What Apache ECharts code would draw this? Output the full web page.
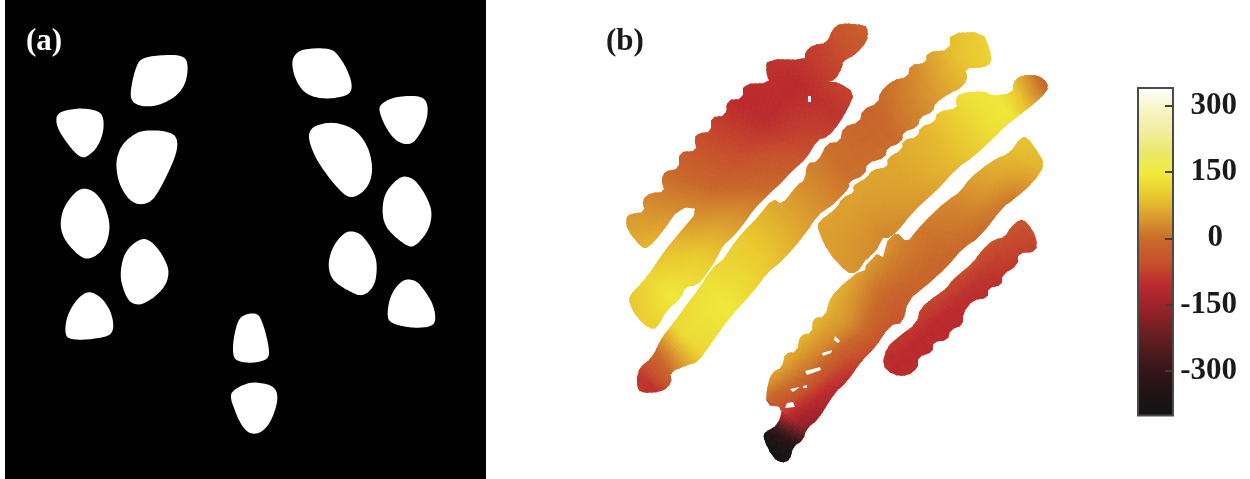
<!DOCTYPE html>
<html><head><meta charset="utf-8">
<style>html,body{margin:0;padding:0;background:#fff}#c{width:1250px;height:479px}</style>
<script src="https://cdn.jsdelivr.net/npm/echarts@6/dist/echarts.min.js"></script>
</head><body><div id="c"></div>
<script>
// ---------- panel (a): binary mask regions ----------
const regionsA = [
 [[141,58],[160,55],[181,55],[188,61],[187,80],[179,94],[165,103],[150,107],[136,105],[130,98],[132,82],[136,67]],
 [[57,114],[66,110],[82,108],[100,111],[104,120],[103,134],[97,148],[88,156],[83,158],[76,154],[67,143],[59,131],[56,122]],
 [[140,131],[157,130],[173,133],[178,141],[176,155],[168,173],[159,191],[151,202],[140,205],[130,201],[121,188],[117,175],[116,160],[121,146],[130,137]],
 [[85,188],[95,192],[103,202],[108,215],[110,228],[107,243],[100,253],[90,259],[82,258],[71,248],[63,237],[60,224],[63,209],[70,198],[78,190]],
 [[142,238],[151,241],[160,251],[167,264],[169,273],[166,285],[156,296],[145,303],[138,305],[129,302],[123,289],[120,275],[123,257],[130,246]],
 [[88,291],[98,295],[105,302],[111,312],[114,326],[111,335],[100,338],[83,340],[69,339],[65,334],[66,320],[71,308],[78,298]],
 [[250,313],[258,314],[262,321],[266,334],[269,348],[269,358],[260,362],[248,363],[237,361],[233,356],[233,342],[236,327],[240,317]],
 [[231,392],[242,385],[253,382],[268,384],[276,389],[278,399],[274,414],[268,426],[260,433],[252,434],[246,431],[239,421],[234,408],[231,400]],
 [[293,57],[300,50],[315,48],[332,49],[339,56],[347,69],[352,83],[351,93],[342,97],[325,99],[310,96],[301,89],[295,78],[292,66]],
 [[379,106],[387,100],[400,96],[421,96],[427,102],[428,113],[425,125],[418,137],[412,144],[402,144],[393,138],[385,126],[380,114]],
 [[309,132],[314,126],[330,122],[346,125],[359,133],[368,147],[372,162],[372,176],[367,188],[359,195],[350,198],[341,192],[326,174],[315,157],[309,141]],
 [[405,176],[414,179],[422,189],[429,202],[432,213],[430,226],[424,237],[414,247],[407,246],[395,237],[385,226],[382,212],[384,196],[391,185],[399,178]],
 [[352,231],[361,234],[369,244],[376,257],[377,270],[375,284],[368,293],[360,296],[351,292],[340,286],[331,278],[328,265],[331,251],[338,239],[346,232]],
 [[408,279],[417,281],[425,291],[433,304],[436,318],[433,326],[420,328],[405,327],[391,323],[387,317],[389,300],[395,288],[402,281]]
];
// ---------- panel (b): stroke outlines ----------
const outlineA = [[626,218],[630,214],[645,212],[642,200],[650,193],[665,192],[661,180],[665,171],[679,169],[679,152],[697,151],[694,138],[699,133],[711,132],[711,117],[726,116],[727,100],[743,99],[743,84],[770,83],[766,73],[767,59],[805,60],[805,52],[813,45],[827,43],[832,30],[840,23],[865,25],[868,30],[867,42],[855,55],[843,61],[842,68],[835,80],[827,82],[838,82],[855,93],[847,110],[840,122],[828,137],[817,140],[807,158],[793,170],[782,182],[768,195],[755,208],[743,225],[732,238],[723,245],[717,258],[708,272],[698,285],[685,287],[682,297],[667,310],[657,328],[650,329],[637,318],[629,303],[630,295],[640,285],[652,270],[663,253],[675,238],[700,209],[680,207],[660,235],[648,248],[642,248],[627,230]];
const outlineB = [[637,377],[640,367],[652,358],[662,337],[672,325],[685,307],[700,287],[713,267],[723,260],[728,252],[738,238],[747,228],[758,217],[773,198],[782,205],[797,185],[805,180],[807,163],[818,162],[827,143],[840,142],[843,127],[860,122],[862,110],[878,103],[880,92],[893,80],[908,77],[910,65],[926,63],[927,52],[950,50],[950,33],[983,32],[990,50],[992,63],[982,68],[965,68],[968,80],[958,90],[952,92],[935,103],[933,112],[920,117],[918,127],[903,132],[902,142],[887,148],[885,158],[867,163],[865,175],[848,182],[850,187],[835,203],[828,208],[818,215],[803,237],[783,260],[767,273],[755,290],[730,317],[710,345],[698,362],[688,365],[670,372],[672,383],[662,392],[640,393],[637,385]];
const outlineC = [[1013,82],[1022,75],[1038,75],[1048,83],[1047,92],[1030,107],[1022,113],[1003,128],[997,135],[973,157],[957,168],[940,187],[928,198],[912,213],[897,232],[888,238],[882,245],[868,258],[857,273],[847,273],[828,252],[818,230],[818,222],[837,208],[842,198],[855,192],[852,186],[867,178],[872,170],[888,167],[887,158],[902,150],[903,140],[918,137],[920,127],[935,122],[937,112],[958,108],[955,100],[960,93],[985,91],[992,96],[1013,93]];
const outlineE = [[857,273],[842,285],[830,298],[825,317],[813,318],[812,333],[800,335],[797,352],[785,353],[782,368],[772,372],[767,387],[766,405],[783,407],[778,425],[765,432],[763,438],[773,458],[782,463],[790,460],[793,447],[803,440],[807,428],[818,420],[835,392],[847,382],[862,360],[875,348],[890,325],[903,323],[908,300],[927,285],[947,267],[963,248],[980,237],[1003,207],[1013,200],[1033,183],[1045,165],[1038,152],[1027,137],[1020,138],[1010,153],[993,160],[970,178],[960,192],[948,200],[933,213],[917,230],[907,243],[897,232],[888,240],[870,262]];
const outlineF = [[1020,219],[1027,222],[1037,238],[1036,252],[1018,253],[1018,265],[1002,275],[1002,285],[988,288],[988,298],[973,300],[963,313],[963,325],[950,330],[948,340],[933,342],[933,352],[918,357],[918,368],[907,376],[893,375],[882,365],[887,347],[897,338],[917,323],[920,308],[937,295],[947,288],[952,280],[973,263],[982,250],[993,240],[1005,237],[1010,228]];
const holes = [
 [[808,96],[811,96],[811,102],[808,102]],
 [[835,336],[840,341],[838,343],[834,340]],
 [[822,353],[832,350],[831,353],[823,356]],
 [[805,371],[820,367],[821,370],[807,375]],
 [[790,389],[800,387],[793,392]],
 [[803,386],[807,385],[807,388],[803,388]],
 [[787,403],[793,402],[795,407],[785,408]],
 [[883,238],[888,238],[883,257],[875,253]],
 [[867,258],[865,270],[857,273]]
];
// ---------- panel (b): values read along (rows) and across (cols) each stroke ----------
const axisA = [[640,315],[860,35]];
const rowsA = [-10,35,80,130,180,230,280,330,370];
const colsA = [-40,-10,20,50,80];
const valuesA = [[100,100,85,60,50],[135,140,115,80,60],[115,105,75,50,35],[55,45,15,0,-5],[10,-15,-50,-60,-60],[-50,-70,-100,-105,-100],[-90,-95,-105,-95,-90],[-50,-55,-65,-80,-85],[-10,-15,-15,-20,-20]];
const axisB = [[650,385],[985,45]];
const rowsB = [0,30,60,110,170,230,290,350,410,450,490];
const colsB = [-40,-15,10,40];
const valuesB = [[-100,-100,-90,-80],[40,30,5,-10],[110,115,125,110],[125,140,140,125],[75,90,100,100],[35,45,50,50],[0,5,0,5],[10,0,-5,-15],[60,55,45,25],[100,95,90,75],[130,125,110,90]];
const axisC = [[835,250],[1040,85]];
const rowsC = [-10,50,100,150,200,222,240,265,285];
const colsC = [-30,0,30];
const valuesC = [[45,50,55],[20,40,55],[40,55,60],[75,85,80],[125,130,130],[130,140,140],[80,90,120],[0,0,30],[-30,-30,-10]];
const axisE = [[780,460],[1035,145]];
const rowsE = [0,20,40,70,110,150,190,230,270,310,350,390,420];
const colsE = [-15,10,35,60];
const valuesE = [[-395,-395,-395,-395],[-360,-320,-300,-250],[-220,-150,-50,30],[-150,-110,-10,60],[-120,-70,20,75],[-90,-20,40,75],[-40,-25,10,60],[-20,-5,15,50],[-10,0,10,30],[0,20,30,40],[15,55,65,70],[75,85,90,90],[90,95,95,95]];
const axisF = [[895,365],[1030,225]];
const rowsF = [0,60,120,190,210];
const colsF = [-20,0,20];
const valuesF = [[-105,-105,-95],[-105,-105,-70],[-105,-90,-50],[-70,-55,-45],[-55,-45,-35]];
// ---------- colour scale ----------
const scaleMin = -400, scaleMax = 340;
const scaleColors = ['#141213','#1f1416','#34151a','#501b1f','#752024','#9d222b','#bb2a2e','#c7502d','#c8682b','#d9972f','#e9c52f','#f0ea3a','#ebe868','#f0ee9e','#f6f4c4','#ffffff'];
const tickValues = [300,150,0,-150,-300];

const strips = [
 {o:outlineA,a:axisA,r:rowsA,c:colsA,v:valuesA},
 {o:outlineB,a:axisB,r:rowsB,c:colsB,v:valuesB},
 {o:outlineC,a:axisC,r:rowsC,c:colsC,v:valuesC},
 {o:outlineE,a:axisE,r:rowsE,c:colsE,v:valuesE},
 {o:outlineF,a:axisF,r:rowsF,c:colsF,v:valuesF}
];
const CELL = 3;
// corner rounding of a closed outline, applied to screen points at draw time
function roundCorners(pts, passes){
  for (let k=0;k<passes;k++){
    const out=[];
    pts.forEach((p,i)=>{ const q=pts[(i+1)%pts.length];
      out.push([p[0]*.75+q[0]*.25,p[1]*.75+q[1]*.25],[p[0]*.25+q[0]*.75,p[1]*.25+q[1]*.75]); });
    pts=out;
  }
  return pts;
}
function locate(list, x){
  if (x <= list[0]) return [0,0,0];
  const n = list.length-1;
  if (x >= list[n]) return [n,n,0];
  let i = 0; while (list[i+1] < x) i++;
  return [i,i+1,(x-list[i])/(list[i+1]-list[i])];
}
function fieldAt(s, along, across){
  const [r0,r1,rt] = locate(s.r, along), [c0,c1,ct] = locate(s.c, across);
  const top = s.v[r0][c0]*(1-ct)+s.v[r0][c1]*ct, bot = s.v[r1][c0]*(1-ct)+s.v[r1][c1]*ct;
  return top*(1-rt)+bot*rt;
}
function colorOf(v){
  return echarts.color.lerp(Math.max(0,Math.min(1,(v-scaleMin)/(scaleMax-scaleMin))), scaleColors);
}
function renderStrip(params, api){
  const s = strips[params.dataIndex];
  const dx = s.a[1][0]-s.a[0][0], dy = s.a[1][1]-s.a[0][1], L = Math.hypot(dx,dy);
  const d = [dx/L,dy/L], n = [dy/L,-dx/L];
  if (n[0] > 0) { n[0] = -n[0]; n[1] = -n[1]; }
  const xs = s.o.map(p=>p[0]), ys = s.o.map(p=>p[1]);
  const x0 = Math.min(...xs)-CELL, x1 = Math.max(...xs)+CELL, y0 = Math.min(...ys)-CELL, y1 = Math.max(...ys)+CELL;
  const proj = p => [(p[0]-s.a[0][0])*d[0]+(p[1]-s.a[0][1])*d[1], (p[0]-s.a[0][0])*n[0]+(p[1]-s.a[0][1])*n[1]];
  const pr = s.o.map(proj);
  const aMin = Math.min(...pr.map(p=>p[0]))-CELL, aMax = Math.max(...pr.map(p=>p[0]))+CELL;
  const cMin = Math.min(...pr.map(p=>p[1]))-CELL, cMax = Math.max(...pr.map(p=>p[1]))+CELL;
  const at = (a,c)=>[s.a[0][0]+a*d[0]+c*n[0], s.a[0][1]+a*d[1]+c*n[1]];
  const children = [];
  for (let a=aMin; a<aMax; a+=CELL) for (let c=cMin; c<cMax; c+=CELL){
    const m = at(a+CELL/2,c+CELL/2);
    if (m[0]<x0||m[0]>x1||m[1]<y0||m[1]>y1) continue;
    const col = colorOf(fieldAt(s,a+CELL/2,c+CELL/2));
    children.push({type:'polygon',silent:true,
      shape:{points:[at(a,c),at(a+CELL,c),at(a+CELL,c+CELL),at(a,c+CELL)].map(p=>api.coord(p))},
      style:{fill:col,stroke:col,lineWidth:1}});
  }
  return {type:'group',children,
    clipPath:{type:'polygon',shape:{points:roundCorners(s.o.map(p=>api.coord(p)),1)}}};
}
const chart = echarts.init(document.getElementById('c'),null,{renderer:'canvas'});
const hidden = {show:false};
const labelFont = {fontFamily:'Liberation Serif',fontWeight:'bold',fontSize:31};
chart.setOption({
  animation:false,
  backgroundColor:'#fff',
  grid:[
    {left:5,top:0,width:481,height:479,show:true,backgroundColor:'#020202',borderWidth:0},
    {left:600,top:0,width:450,height:479,show:false},
    {left:1138,top:88,width:35,height:327.5,show:true,backgroundColor:'transparent',borderColor:'#4a4a4a',borderWidth:2,z:6}
  ],
  xAxis:[
    {gridIndex:0,type:'value',min:5,max:486,...hidden},
    {gridIndex:1,type:'value',min:600,max:1050,...hidden},
    {gridIndex:2,type:'value',min:0,max:1,...hidden}
  ],
  yAxis:[
    {gridIndex:0,type:'value',min:0,max:479,inverse:true,...hidden},
    {gridIndex:1,type:'value',min:0,max:479,inverse:true,...hidden},
    {gridIndex:2,type:'value',min:scaleMin,max:scaleMax,position:'right',z:7,
     splitLine:{show:false},axisLine:{show:false,onZero:false},
     axisTick:{show:true,inside:true,length:8,customValues:tickValues,lineStyle:{color:'#4d3a30',width:2}},
     axisLabel:{show:true,customValues:tickValues,margin:64,align:'right',color:'#1a1a1a',...labelFont,
       formatter:v=>v===0?'{z|0}':String(v),
       rich:{z:{padding:[0,14,0,0],color:'#1a1a1a',...labelFont}}}}
  ],
  visualMap:{type:'continuous',min:scaleMin,max:scaleMax,seriesIndex:3,show:true,calculable:false,
    left:1138,top:88,itemWidth:35,itemHeight:327.5,padding:0,text:null,showLabel:false,
    inRange:{color:scaleColors},z:1},
  graphic:[
    {type:'text',left:26,top:26,silent:true,style:{text:'(a)',fill:'#fff',font:'bold 31px "Liberation Serif"'}},
    {type:'text',left:606,top:26,silent:true,style:{text:'(b)',fill:'#1a1a1a',font:'bold 31px "Liberation Serif"'}}
  ],
  series:[
    {type:'custom',name:'mask',xAxisIndex:0,yAxisIndex:0,silent:true,clip:false,
     data:regionsA.map((_,i)=>[i]),
     renderItem:(p,api)=>({type:'polygon',shape:{points:roundCorners(regionsA[p.dataIndex].map(q=>api.coord(q)),3)},style:{fill:'#fff'}})},
    {type:'custom',name:'field',xAxisIndex:1,yAxisIndex:1,silent:true,clip:false,
     data:strips.map((_,i)=>[i]),renderItem:renderStrip},
    {type:'custom',name:'gaps',xAxisIndex:1,yAxisIndex:1,silent:true,clip:false,z:3,
     data:holes.map((_,i)=>[i]),
     renderItem:(p,api)=>({type:'polygon',shape:{points:holes[p.dataIndex].map(q=>api.coord(q))},style:{fill:'#fff'}})},
    {type:'custom',name:'scale',xAxisIndex:2,yAxisIndex:2,silent:true,data:[],renderItem:()=>null}
  ]
});
</script></body></html>
